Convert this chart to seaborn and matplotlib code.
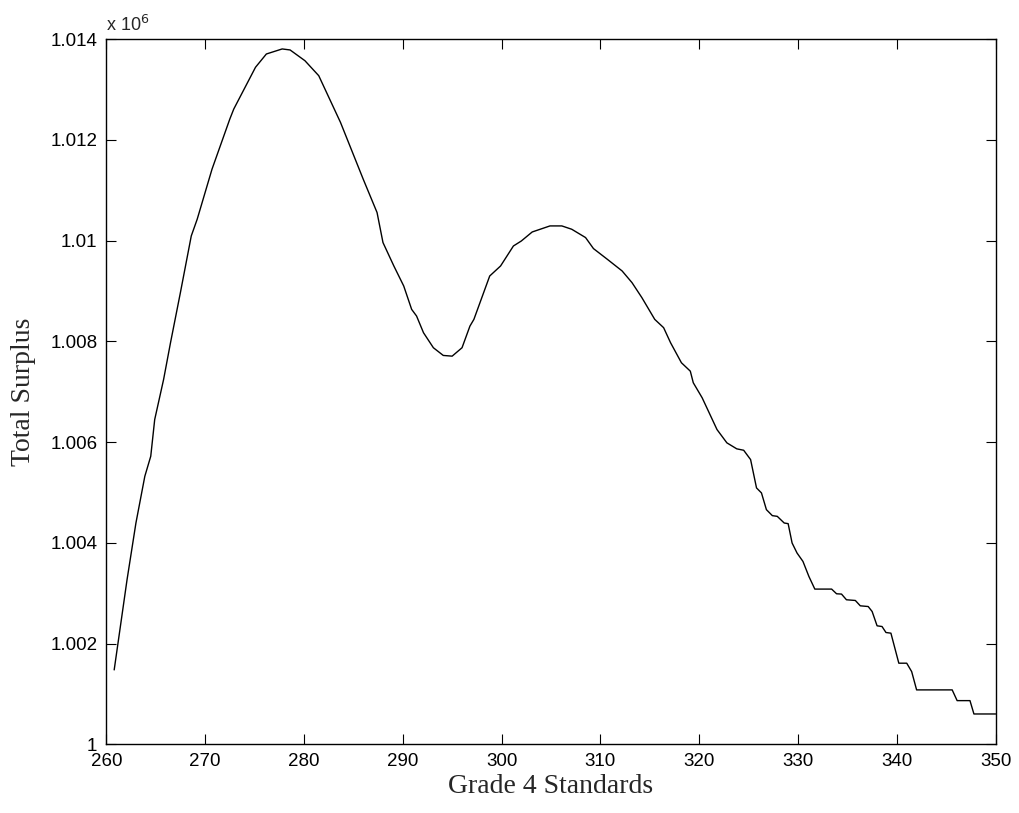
import matplotlib
matplotlib.use("Agg")
import matplotlib.pyplot as plt
import matplotlib.transforms as mtransforms
import seaborn as sns
import pandas as pd
from matplotlib.ticker import FuncFormatter, MultipleLocator

# values
standards = [260.8, 261.2, 262.1, 263.0, 263.9, 264.5, 264.9, 265.8, 266.5, 267.5,
             268.6, 269.2, 270.7, 272.5, 272.9, 275.1, 276.2, 277.8, 278.6, 280.1,
             281.5, 283.7, 286.0, 287.4, 288.0, 289.1, 290.1, 290.9, 291.4, 292.1,
             293.1, 294.1, 295.0, 296.0, 296.8, 297.2, 298.8, 299.9, 301.2, 302.0,
             303.1, 304.9, 306.1, 307.1, 308.5, 309.3, 310.7, 312.2, 313.2, 314.2,
             315.5, 316.4, 317.1, 318.2, 319.1, 319.4, 320.3, 321.8, 322.8, 323.8,
             324.5, 325.2, 325.8, 326.3, 326.8, 327.4, 327.9, 328.6, 329.0, 329.4,
             329.9, 330.5, 331.1, 331.7, 333.4, 333.9, 334.4, 334.9, 335.8, 336.3,
             337.1, 337.5, 338.0, 338.5, 338.9, 339.4, 340.2, 341.0, 341.5, 342.0,
             345.6, 346.1, 347.4, 347.8, 350.0]
surplus = [1001477, 1002028, 1003266, 1004393, 1005320, 1005718, 1006447, 1007242, 1007972, 1008966,
           1010091, 1010423, 1011417, 1012411, 1012610, 1013439, 1013703, 1013803, 1013783, 1013570,
           1013272, 1012345, 1011218, 1010556, 1009960, 1009495, 1009097, 1008634, 1008501, 1008170,
           1007872, 1007719, 1007705, 1007872, 1008302, 1008435, 1009296, 1009495, 1009892, 1009991,
           1010170, 1010290, 1010290, 1010224, 1010059, 1009840, 1009628, 1009396, 1009164, 1008866,
           1008435, 1008270, 1007972, 1007574, 1007407, 1007177, 1006878, 1006248, 1005984, 1005865,
           1005837, 1005652, 1005089, 1004990, 1004658, 1004539, 1004525, 1004393, 1004380, 1003996,
           1003797, 1003630, 1003332, 1003081, 1003081, 1002988, 1002982, 1002869, 1002855, 1002749,
           1002735, 1002636, 1002352, 1002338, 1002219, 1002206, 1001610, 1001610, 1001443, 1001080,
           1001080, 1000867, 1000867, 1000602, 1000602]

df = pd.DataFrame({"Grade 4 Standards": standards, "Total Surplus": surplus})

sns.set_style("ticks")
plt.rcParams['font.family'] = ['Liberation Sans', 'DejaVu Sans']

fig = plt.figure(figsize=(10.19, 8.13), dpi=100)
ax = fig.add_axes([0.1043, 0.0845, 0.8728, 0.8675])

sns.lineplot(data=df, x="Grade 4 Standards", y="Total Surplus", ax=ax,
             color="black", linewidth=1.0, sort=False)

ax.set_xlim(260, 350)
ax.set_ylim(1.0e6, 1.014e6)
ax.xaxis.set_major_locator(MultipleLocator(10))
ax.yaxis.set_major_locator(MultipleLocator(2000))
ax.yaxis.set_major_formatter(FuncFormatter(lambda v, p: "%g" % round(v / 1e6, 3)))

ax.tick_params(direction="in", length=7, width=0.8, top=True, right=True,
               labelsize=13.5, colors="black")
ax.tick_params(axis="x", pad=6)
ax.tick_params(axis="y", pad=6.5)
for s in ax.spines.values():
    s.set_linewidth(1.0)
    s.set_color("black")

# lift the bottom "1" label a little so it clears the "260" below it
fig.canvas.draw()
lift = mtransforms.ScaledTranslation(0, 2.5 / 72, fig.dpi_scale_trans)
first = ax.get_yticklabels()[0]
first.set_transform(first.get_transform() + lift)

ax.set_xlabel("Grade 4 Standards", fontsize=20, family="Liberation Serif", labelpad=3)
ax.set_ylabel("Total Surplus", fontsize=20, family="Liberation Serif", labelpad=10)
ax.text(0.0, 1.006, r"x 10$^6$", transform=ax.transAxes, fontsize=13,
        ha="left", va="bottom")

plt.savefig("out.png", dpi=100)
